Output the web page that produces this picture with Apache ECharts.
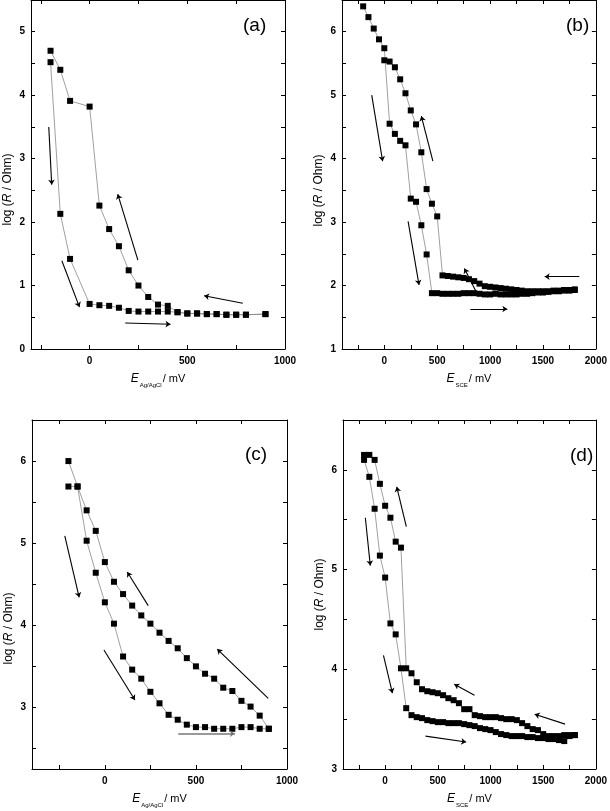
<!DOCTYPE html>
<html>
<head>
<meta charset="utf-8">
<script src="https://cdn.jsdelivr.net/npm/echarts@6/dist/echarts.min.js"></script>
<style>
html,body{margin:0;padding:0;background:#fff;}
#chart{width:610px;height:811px;}
</style>
</head>
<body>
<div id="chart"></div>
<script>
// ---------- Panel (a) ----------
const aForward = [[-200,4.52],[-150,2.13],[-100,1.42],[0,0.71],[50,0.69],[100,0.68],[150,0.65],[200,0.60],[250,0.59],[300,0.59],[350,0.59],[400,0.59],[450,0.58],[500,0.56],[550,0.56],[600,0.55],[650,0.55],[700,0.54],[750,0.54],[800,0.54],[900,0.55]];
const aReverse = [[900,0.55],[800,0.54],[750,0.54],[700,0.54],[650,0.55],[600,0.55],[550,0.56],[500,0.56],[450,0.58],[400,0.68],[350,0.70],[300,0.82],[250,1.00],[200,1.24],[150,1.62],[100,1.89],[50,2.26],[0,3.82],[-100,3.91],[-150,4.40],[-200,4.70]];
const aArrows = [[-209,3.50,-194,2.59],[-142,1.39,-52,0.66],[182,0.41,414,0.39],[784,0.72,586,0.84],[247,1.40,144,2.44]];
const aXTicks = [-250,0,250,500,750,1000];
const aXLabels = [0,500,1000];
const aYTicks = [0,0.5,1,1.5,2,2.5,3,3.5,4,4.5,5,5.5];
const aYLabels = [0,1,2,3,4,5];

// ---------- Panel (b) ----------
const bForward = [[-200,6.40],[-150,6.23],[-100,6.05],[-50,5.88],[0,5.74],[50,4.55],[100,4.39],[150,4.28],[200,4.21],[250,3.37],[300,3.32],[350,2.95],[400,2.49],[450,1.88],[500,1.88],[550,1.87],[600,1.87],[650,1.87],[700,1.87],[750,1.88],[800,1.88],[850,1.88],[900,1.87],[950,1.86],[1000,1.86],[1050,1.87],[1100,1.86],[1150,1.86],[1200,1.86],[1250,1.86],[1300,1.87],[1350,1.87],[1400,1.88],[1450,1.89],[1500,1.89],[1550,1.90],[1600,1.91],[1650,1.91],[1700,1.92],[1750,1.92],[1800,1.93]];
const bReverse = [[1800,1.94],[1750,1.93],[1700,1.93],[1650,1.92],[1600,1.92],[1550,1.91],[1500,1.91],[1450,1.91],[1400,1.91],[1350,1.91],[1300,1.92],[1250,1.93],[1200,1.94],[1150,1.95],[1100,1.96],[1050,1.97],[1000,1.98],[950,1.99],[900,2.03],[850,2.07],[800,2.10],[750,2.12],[700,2.13],[650,2.14],[600,2.15],[550,2.16],[500,3.09],[450,3.29],[400,3.52],[350,4.10],[300,4.54],[250,4.76],[200,5.03],[150,5.25],[100,5.44],[50,5.53],[0,5.55]];
const bArrows = [[-119,5.00,-16,3.96],[459,3.96,350,4.67],[225,3.01,328,2.01],[1844,2.14,1516,2.14],[813,1.63,1163,1.63],[866,1.91,757,2.27]];
const bXTicks = [-250,0,250,500,750,1000,1250,1500,1750,2000];
const bXLabels = [0,500,1000,1500,2000];
const bYTicks = [1,1.5,2,2.5,3,3.5,4,4.5,5,5.5,6,6.5];
const bYLabels = [1,2,3,4,5,6];

// ---------- Panel (c) ----------
const cForward = [[-200,5.69],[-150,5.69],[-100,5.03],[-50,4.64],[0,4.28],[50,4.02],[100,3.62],[150,3.46],[200,3.35],[250,3.19],[300,3.05],[350,2.91],[400,2.85],[450,2.79],[500,2.76],[550,2.76],[600,2.74],[650,2.74],[700,2.74],[750,2.76],[800,2.76],[850,2.74],[900,2.74]];
const cReverse = [[900,2.74],[850,2.90],[800,3.01],[750,3.08],[700,3.20],[650,3.24],[600,3.35],[550,3.41],[500,3.50],[450,3.60],[400,3.72],[350,3.81],[300,3.91],[250,4.02],[200,4.12],[150,4.24],[100,4.38],[50,4.53],[0,4.77],[-50,5.15],[-100,5.40],[-150,5.69],[-200,6.00]];
const cArrows = [[-220,5.09,-141,4.34],[238,4.24,123,4.65],[-5,3.70,165,3.09],[897,3.11,617,3.71]];
const cArrowsGray = [[403,2.68,714,2.68]];
const cXTicks = [-250,0,250,500,750,1000];
const cXLabels = [0,500,1000];
const cYTicks = [2.5,3,3.5,4,4.5,5,5.5,6,6.5];
const cYLabels = [3,4,5,6];

// ---------- Panel (d) ----------
const dForward = [[-200,6.10],[-150,5.93],[-100,5.61],[-50,5.14],[0,4.92],[50,4.46],[100,4.35],[150,4.01],[200,3.61],[250,3.54],[300,3.52],[350,3.51],[400,3.49],[450,3.48],[500,3.47],[550,3.47],[600,3.46],[650,3.46],[700,3.46],[750,3.45],[800,3.44],[850,3.43],[900,3.41],[950,3.40],[1000,3.39],[1050,3.37],[1100,3.35],[1150,3.34],[1200,3.33],[1250,3.33],[1300,3.33],[1350,3.32],[1400,3.32],[1450,3.31],[1500,3.31],[1550,3.30],[1600,3.30],[1650,3.29],[1700,3.28],[1750,3.33],[1800,3.34]];
const dReverse = [[1800,3.34],[1750,3.34],[1700,3.34],[1650,3.33],[1600,3.33],[1550,3.33],[1500,3.35],[1450,3.39],[1400,3.40],[1350,3.43],[1300,3.46],[1250,3.49],[1200,3.50],[1150,3.50],[1100,3.51],[1050,3.52],[1000,3.52],[950,3.52],[900,3.53],[850,3.54],[800,3.60],[750,3.60],[700,3.66],[650,3.69],[600,3.71],[550,3.74],[500,3.76],[450,3.77],[400,3.78],[350,3.80],[300,3.87],[250,3.96],[200,4.01],[150,5.22],[100,5.28],[50,5.52],[0,5.64],[-50,5.86],[-100,6.10],[-150,6.15],[-200,6.15]];
const dArrows = [[-188,5.52,-141,5.04],[201,5.43,110,5.83],[-16,4.14,69,3.76],[848,3.74,656,3.85],[1708,3.45,1419,3.55],[383,3.33,769,3.27]];
const dXTicks = [-250,0,250,500,750,1000,1250,1500,1750,2000];
const dXLabels = [0,500,1000,1500,2000];
const dYTicks = [3,3.5,4,4.5,5,5.5,6,6.5];
const dYLabels = [3,4,5,6];

const panelLabels = ['(a)','(b)','(c)','(d)'];

// ---------- build ----------
const FONT = '"Liberation Sans", Arial, Helvetica, sans-serif';
const grids = [
  {left:31, top:0, width:254, height:349},
  {left:342, top:0, width:256, height:349},
  {left:32, top:420, width:255, height:349},
  {left:343, top:420, width:255, height:349}
];
const panels = [
  {xr:[-300,1000], yr:[0,5.5], xt:aXTicks, xl:aXLabels, yt:aYTicks, yl:aYLabels, sub:'Ag/AgCl', yShift:15, f:aForward, r:aReverse, ar:aArrows, ag:[]},
  {xr:[-400,2000], yr:[1,6.5], xt:bXTicks, xl:bXLabels, yt:bYTicks, yl:bYLabels, sub:'SCE', yShift:16, f:bForward, r:bReverse, ar:bArrows, ag:[]},
  {xr:[-400,1000], yr:[2.25,6.5], xt:cXTicks, xl:cXLabels, yt:cYTicks, yl:cYLabels, sub:'Ag/AgCl', yShift:34, f:cForward, r:cReverse, ar:cArrows, ag:cArrowsGray},
  {xr:[-400,2000], yr:[3,6.5], xt:dXTicks, xl:dXLabels, yt:dYTicks, yl:dYLabels, sub:'SCE', yShift:0, f:dForward, r:dReverse, ar:dArrows, ag:[]}
];

const xAxis = [], yAxis = [], series = [];
const lineCol = '#000';
function axisBase(g, min, max, ticks, labels, pos, showLabel) {
  return {
    type:'value', gridIndex:g, position:pos, min:min, max:max,
    axisLine:{show:true, onZero:false, lineStyle:{color:lineCol, width:1}},
    axisTick:{show:true, inside:true, length:4, customValues:ticks, lineStyle:{color:lineCol, width:1}},
    axisLabel:{show:showLabel, customValues:labels, fontSize:10, fontWeight:'bold', color:'#000', fontFamily:FONT, margin:7,
      formatter:function(v){ return String(v); }},
    splitLine:{show:false},
    minorTick:{show:false}
  };
}
function toMark(arr, color, width) {
  return arr.map(a => [{coord:[a[0],a[1]], lineStyle:{color:color, width:width}}, {coord:[a[2],a[3]]}]);
}
panels.forEach((p, g) => {
  const xb = axisBase(g, p.xr[0], p.xr[1], p.xt, p.xl, 'bottom', true);
  xb.name = '{e|E}{s|' + p.sub + '}{n|/ mV}';
  xb.nameLocation = 'middle';
  xb.nameGap = 21;
  xb.nameTextStyle = {color:'#000', fontFamily:FONT, fontSize:11,
    rich:{e:{fontStyle:'italic', fontSize:12, fontFamily:FONT, lineHeight:18, verticalAlign:'middle'},
          s:{fontSize:6, fontFamily:FONT, verticalAlign:'bottom', padding:[0,1,0,1]},
          n:{fontSize:11, fontFamily:FONT, lineHeight:18, verticalAlign:'middle'}}};
  xAxis.push(xb);
  xAxis.push(axisBase(g, p.xr[0], p.xr[1], p.xt, p.xl, 'top', false));
  const yl = axisBase(g, p.yr[0], p.yr[1], p.yt, p.yl, 'left', true);
  yl.axisLabel.margin = 6;
  yl.name = 'log ({i|R} / Ohm)';
  yl.nameLocation = 'middle';
  yl.nameGap = 17;
  yl.nameRotate = 90;
  yl.nameTextStyle = {color:'#000', fontFamily:FONT, fontSize:12, padding:[0, 2*p.yShift, 0, 0],
    rich:{i:{fontStyle:'italic', fontSize:12, fontFamily:FONT}}};
  yAxis.push(yl);
  yAxis.push(axisBase(g, p.yr[0], p.yr[1], p.yt, p.yl, 'right', false));
  const common = {type:'line', xAxisIndex:2*g, yAxisIndex:2*g, symbol:'rect', symbolSize:6,
    itemStyle:{color:'#000'}, lineStyle:{color:'#888', width:0.8}, animation:false, silent:true, z:2};
  series.push(Object.assign({}, common, {data:p.f,
    markLine:{silent:true, symbol:['none','arrow'], symbolSize:5, label:{show:false},
      lineStyle:{color:'#000', width:1.1, type:'solid'}, animation:false,
      emphasis:{disabled:true},
      data: toMark(p.ar, '#000', 1.1).concat(toMark(p.ag, '#777', 1.5))}}));
  series.push(Object.assign({}, common, {data:p.r}));
});

const graphic = panelLabels.map((t, i) => {
  const pos = [[243,16],[566,16],[245,445],[570,446]][i];
  return {type:'text', left:pos[0], top:pos[1], silent:true,
    style:{text:t, fill:'#000', font:'19px ' + FONT}};
});

const chart = echarts.init(document.getElementById('chart'), null, {renderer:'canvas'});
chart.setOption({
  animation:false,
  backgroundColor:'#fff',
  grid:grids,
  xAxis:xAxis,
  yAxis:yAxis,
  series:series,
  graphic:graphic
});
</script>
</body>
</html>
